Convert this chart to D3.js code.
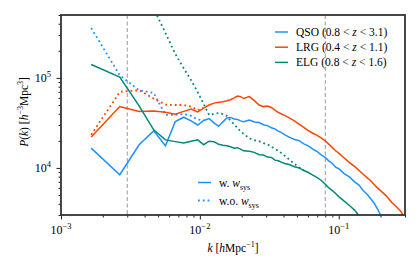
<!DOCTYPE html>
<html lang="en">
<head>
<meta charset="UTF-8">
<script src="https://cdn.jsdelivr.net/npm/d3@7"></script>
<style>
    body { margin: 0; background: #fff; }
    text { font-family: "Liberation Serif", "DejaVu Serif", serif; fill: #000; }
</style>
</head>
<body>
<div id="chart"></div>
<script>
    // k bins (h/Mpc)
    var kValues = [
        0.00165, 0.00265, 0.00365, 0.00465, 0.00565, 0.00665, 0.00765, 0.00865, 0.00965, 0.01065,
        0.01165, 0.01265, 0.01365, 0.01465, 0.01565, 0.01665, 0.01765, 0.01865, 0.01965, 0.02065,
        0.0227, 0.0247, 0.0267, 0.0287, 0.0307, 0.0327, 0.0347, 0.0367, 0.0387, 0.0407,
        0.044, 0.048, 0.052, 0.056, 0.060, 0.065, 0.070, 0.075, 0.080, 0.085,
        0.090, 0.095, 0.100, 0.11, 0.12, 0.13, 0.14, 0.15, 0.16, 0.17,
        0.18, 0.19, 0.20, 0.22, 0.24, 0.26, 0.28, 0.29
    ];

    // with w_sys
    var qsoW = [
        1.66e4, 8.4e3, 1.81e4, 2.58e4, 1.76e4, 3.27e4, 3.66e4, 3.33e4, 3.0e4, 3.37e4,
        3.53e4, 3.17e4, 2.9e4, 3.25e4, 3.59e4, 3.64e4, 3.5e4, 3.46e4, 3.33e4, 3.27e4,
        3.41e4, 3.24e4, 3.2e4, 3.02e4, 2.95e4, 2.8e4, 2.72e4, 2.56e4, 2.47e4, 2.34e4,
        2.2e4, 2.07e4, 2.01e4, 1.85e4, 1.77e4, 1.62e4, 1.52e4, 1.39e4, 1.31e4, 1.19e4,
        1.12e4, 1.02e4, 9.8e3, 8.6e3, 7.9e3, 7.0e3, 6.45e3, 5.6e3, 5.1e3, 4.55e3,
        4.05e3, 3.5e3, 3.0e3, null, null, null, null, null
    ];
    var lrgW = [
        2.2e4, 4.8e4, 4.24e4, 4.3e4, 4.15e4, 3.96e4, 4.25e4, 4.5e4, 4.2e4, 4.63e4,
        5.0e4, 5.25e4, 5.38e4, 5.45e4, 5.58e4, 5.72e4, 6.0e4, 6.3e4, 6.2e4, 5.9e4,
        6.2e4, 5.6e4, 5.0e4, 4.8e4, 4.87e4, 4.7e4, 4.4e4, 4.15e4, 3.97e4, 3.83e4,
        3.6e4, 3.33e4, 3.05e4, 2.82e4, 2.62e4, 2.43e4, 2.3e4, 2.14e4, 2.0e4, 1.83e4,
        1.68e4, 1.55e4, 1.46e4, 1.28e4, 1.14e4, 1.04e4, 9.35e3, 8.5e3, 7.8e3, 7.2e3,
        6.55e3, 6.0e3, 5.6e3, 4.9e3, 4.15e3, 3.7e3, 3.3e3, 3.0e3
    ];
    var elgW = [
        1.41e5, 1.02e5, 4.9e4, 2.65e4, 2.05e4, 1.96e4, 1.89e4, 1.98e4, 2.05e4, 1.81e4,
        1.98e4, 1.95e4, 1.83e4, 1.79e4, 1.76e4, 1.72e4, 1.66e4, 1.68e4, 1.62e4, 1.55e4,
        1.53e4, 1.49e4, 1.40e4, 1.39e4, 1.32e4, 1.31e4, 1.22e4, 1.2e4, 1.16e4, 1.12e4,
        1.09e4, 1.03e4, 1.0e4, 9.35e3, 8.95e3, 8.3e3, 7.8e3, 7.25e3, 6.6e3, 6.0e3,
        5.6e3, 5.2e3, 4.8e3, 4.25e3, 3.8e3, 3.4e3, 2.95e3, null, null, null,
        null, null, null, null, null, null, null, null
    ];

    // without w_sys (only where it differs from the weighted one)
    var qsoWo = [
        3.58e5, 1.07e5, 7.3e4, 6.8e4, 3.88e4, 3.88e4, 3.97e4, 3.78e4, 3.45e4, 3.37e4
    ];
    var lrgWo = [
        2.33e4, 7.0e4, 7.3e4, 5.9e4, 5.05e4, 5.0e4, 5.0e4, 4.8e4, 4.4e4, 4.63e4
    ];
    var elgWo = [
        1.5e7, 3.6e6, 1.26e6, 5.9e5, 3.16e5, 1.85e5, 1.28e5, 9.43e4, 6.95e4, 5.14e4,
        3.88e4, 4.0e4, 4.06e4, 3.97e4, 3.78e4, 3.33e4, 3.05e4, 2.79e4, 2.52e4, 2.4e4,
        2.13e4, 2.03e4, 1.98e4, 1.89e4, 1.83e4, 1.72e4, 1.63e4, 1.55e4, 1.46e4, 1.37e4,
        1.24e4, 1.11e4, 1.01e4, 9.35e3
    ];

    var tracers = ["QSO", "LRG", "ELG"];
    var zLow = ["0.8", "0.4", "0.8"];
    var zHigh = ["3.1", "1.1", "1.6"];
    var colors = ["#1e90ff", "#ff4500", "#00897b"];
    var kCuts = [0.003, 0.08];
    var xMajor = [1e-3, 1e-2, 1e-1];
    var xExp = ["\u22123", "\u22122", "\u22121"];
    var yMajor = [1e4, 1e5];
    var yExp = ["4", "5"];

    var W = 420, H = 270;
    var margin = {top: 15, right: 15, bottom: 55, left: 61};

    var svg = d3.select("#chart").append("svg")
        .attr("width", W)
        .attr("height", H);

    var x = d3.scaleLog().domain([1e-3, 0.3]).range([margin.left, W - margin.right]);
    var y = d3.scaleLog().domain([3e3, 5e5]).range([H - margin.bottom, margin.top]);

    svg.append("clipPath").attr("id", "plotclip")
        .append("rect")
        .attr("x", margin.left).attr("y", margin.top)
        .attr("width", W - margin.left - margin.right)
        .attr("height", H - margin.top - margin.bottom);

    var plot = svg.append("g").attr("clip-path", "url(#plotclip)");

    // scale cut lines
    plot.selectAll(".cut")
        .data(kCuts)
        .enter()
        .append("line")
        .attr("x1", function (d) { return x(d); })
        .attr("x2", function (d) { return x(d); })
        .attr("y1", margin.top)
        .attr("y2", H - margin.bottom)
        .attr("stroke", "#999")
        .attr("stroke-width", 1)
        .attr("stroke-dasharray", "4,2.5");

    var line = d3.line()
        .defined(function (d) { return d[1] != null; })
        .x(function (d) { return x(d[0]); })
        .y(function (d) { return y(d[1]); });

    function pairs(vals) {
        return vals.map(function (v, i) { return [kValues[i], v]; });
    }

    var withSys = [qsoW, lrgW, elgW];
    var withoutSys = [qsoWo, lrgWo, elgWo];

    withoutSys.forEach(function (vals, i) {
        plot.append("path")
            .datum(pairs(vals))
            .attr("d", line)
            .attr("fill", "none")
            .attr("stroke", colors[i])
            .attr("stroke-width", 1.8)
            .attr("stroke-dasharray", "1.8,3");
    });
    withSys.forEach(function (vals, i) {
        plot.append("path")
            .datum(pairs(vals))
            .attr("d", line)
            .attr("fill", "none")
            .attr("stroke", colors[i])
            .attr("stroke-width", 1.5);
    });

    // axes
    var xMinor = x.ticks().filter(function (t) { return xMajor.indexOf(t) < 0; });
    var yMinor = y.ticks().filter(function (t) { return yMajor.indexOf(t) < 0; });

    var xAxisG = svg.append("g").attr("transform", "translate(0," + (H - margin.bottom) + ")");
    xAxisG.append("g").call(d3.axisBottom(x).tickValues(xMajor).tickSize(4.5).tickSizeOuter(0).tickFormat(""));
    xAxisG.append("g").call(d3.axisBottom(x).tickValues(xMinor).tickSize(2.5).tickSizeOuter(0).tickFormat(""));

    var yAxisG = svg.append("g").attr("transform", "translate(" + margin.left + ",0)");
    yAxisG.append("g").call(d3.axisLeft(y).tickValues(yMajor).tickSize(4.5).tickSizeOuter(0).tickFormat(""));
    yAxisG.append("g").call(d3.axisLeft(y).tickValues(yMinor).tickSize(2.5).tickSizeOuter(0).tickFormat(""));

    svg.selectAll(".domain").remove();
    svg.selectAll(".tick line").attr("stroke", "#222").attr("stroke-width", 1);

    var xl = svg.selectAll(".xlab")
        .data(xMajor)
        .enter()
        .append("text")
        .attr("x", function (d) { return x(d); })
        .attr("y", 234)
        .attr("text-anchor", "middle")
        .style("font-size", "12px");
    xl.append("tspan").text("10");
    xl.append("tspan").attr("dy", -5).style("font-size", "8.5px").text(function (d, i) { return xExp[i]; });

    var yl = svg.selectAll(".ylab")
        .data(yMajor)
        .enter()
        .append("text")
        .attr("x", 51)
        .attr("y", function (d) { return y(d) + 4; })
        .attr("text-anchor", "end")
        .style("font-size", "12px");
    yl.append("tspan").text("10");
    yl.append("tspan").attr("dy", -5).style("font-size", "8.5px").text(function (d, i) { return yExp[i]; });

    // frame
    svg.append("rect")
        .attr("x", margin.left).attr("y", margin.top)
        .attr("width", W - margin.left - margin.right)
        .attr("height", H - margin.top - margin.bottom)
        .attr("fill", "none")
        .attr("stroke", "#333")
        .attr("stroke-width", 1.8);

    // axis titles
    var xt = svg.append("text")
        .attr("x", 233).attr("y", 252)
        .attr("text-anchor", "middle")
        .style("font-size", "11.5px");
    xt.append("tspan").style("font-style", "italic").text("k");
    xt.append("tspan").text(" [");
    xt.append("tspan").style("font-style", "italic").text("h");
    xt.append("tspan").text("Mpc");
    xt.append("tspan").attr("dy", -5).style("font-size", "8px").text("\u22121");
    xt.append("tspan").attr("dy", 5).text("]");

    var yt = svg.append("text")
        .attr("transform", "translate(28,112) rotate(-90)")
        .attr("text-anchor", "middle")
        .style("font-size", "11.5px");
    yt.append("tspan").style("font-style", "italic").text("P");
    yt.append("tspan").text("(");
    yt.append("tspan").style("font-style", "italic").text("k");
    yt.append("tspan").text(") [");
    yt.append("tspan").style("font-style", "italic").text("h");
    yt.append("tspan").attr("dy", -5).style("font-size", "8px").text("\u22123");
    yt.append("tspan").attr("dy", 5).text("Mpc");
    yt.append("tspan").attr("dy", -5).style("font-size", "8px").text("3");
    yt.append("tspan").attr("dy", 5).text("]");

    // tracer legend
    var leg = svg.append("g");
    tracers.forEach(function (name, i) {
        var ly = 32 + i * 15.2;
        leg.append("line")
            .attr("x1", 275).attr("x2", 288)
            .attr("y1", ly).attr("y2", ly)
            .attr("stroke", colors[i])
            .attr("stroke-width", 1.5);
        var t = leg.append("text")
            .attr("x", 296).attr("y", ly + 4)
            .style("font-size", "11.5px");
        t.append("tspan").text(name + " (" + zLow[i] + " < ");
        t.append("tspan").style("font-style", "italic").text("z");
        t.append("tspan").text(" < " + zHigh[i] + ")");
    });

    // weight legend
    var styles = [null, "1.8,3"];
    var wLabels = ["w. ", "w.o. "];
    wLabels.forEach(function (lab, i) {
        var ly = 182.5 + i * 18;
        leg.append("line")
            .attr("x1", 198).attr("x2", 211)
            .attr("y1", ly).attr("y2", ly)
            .attr("stroke", colors[0])
            .attr("stroke-width", i ? 1.8 : 1.5)
            .attr("stroke-dasharray", styles[i]);
        var t = leg.append("text")
            .attr("x", 219).attr("y", ly + 4)
            .style("font-size", "11.5px");
        t.append("tspan").text(lab);
        t.append("tspan").style("font-style", "italic").text("w");
        t.append("tspan").attr("dy", 3).style("font-size", "8px").text("sys");
    });
</script>
</body>
</html>
